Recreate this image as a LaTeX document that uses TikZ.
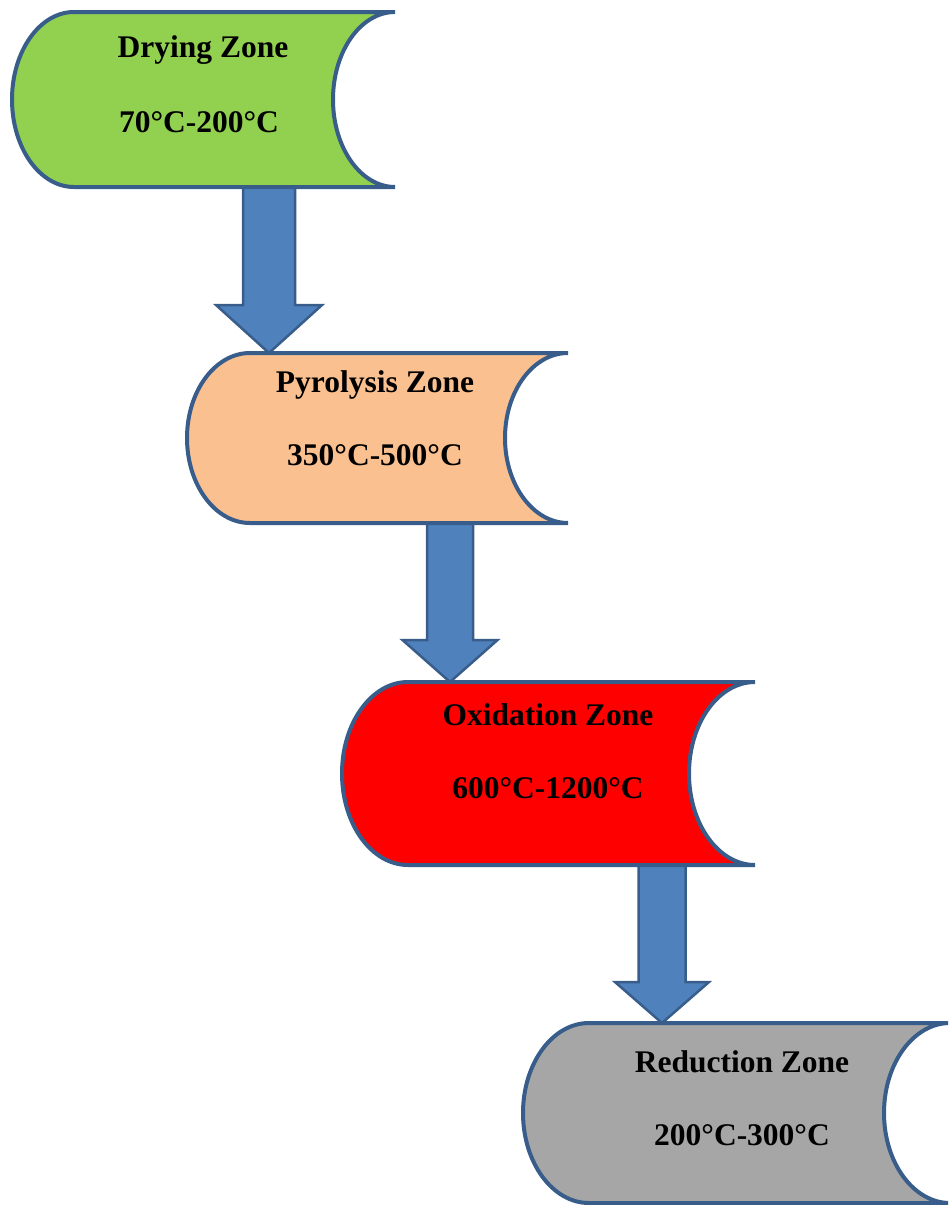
\documentclass[tikz,border=0pt]{standalone}
\usepackage{fontspec}
\setmainfont{Liberation Serif}
\usetikzlibrary{calc}
\definecolor{zgreen}{RGB}{146,208,80}
\definecolor{zpeach}{RGB}{250,192,144}
\definecolor{zred}{RGB}{255,0,0}
\definecolor{zgray}{RGB}{166,166,166}
\definecolor{zline}{RGB}{56,93,138}
\definecolor{zarrow}{RGB}{79,129,189}
\newcommand\zoneshape[3]{%
  \path[zoneborder, fill=#3] let \p1=(#1.north west), \p2=(#1.south east), \n1={(\y1-\y2)/2} in
    (\x1+#2pt,\y1) -- (\x2,\y1)
    arc[start angle=90, end angle=270, x radius=#2pt, y radius=\n1]
    -- (\x1+#2pt,\y2)
    arc[start angle=270, end angle=90, x radius=#2pt, y radius=\n1] -- cycle;}
\newcommand\blockarrow[5]{%
  \path[blockarr] let \p1=(#1), \p2=(#2) in
    (\x1-#3pt,\y1) -- (\x1+#3pt,\y1) -- (\x1+#3pt,\y2+#5pt) -- (\x1+#4pt,\y2+#5pt)
    -- (\x2,\y2) -- (\x1-#4pt,\y2+#5pt) -- (\x1-#3pt,\y2+#5pt) -- cycle;}
\begin{document}
\begin{tikzpicture}[x=1pt,y=1pt,
  zoneanchor/.style={minimum width=#1, inner sep=0pt, outer sep=0pt},
  zoneborder/.style={draw=zline, line width=4pt, line join=miter},
  blockarr/.style={draw=zline, fill=zarrow, line width=2.5pt, line join=miter},
  zonetext/.style={anchor=base, inner sep=0pt, font=\fontsize{31.5}{36}\selectfont\bfseries}]
\clip (0,0) rectangle (948,-1205);
% invisible anchor nodes for the zone shapes
\node[zoneanchor=383pt, minimum height=175pt] (dry) at (203.5,-99.5) {};
\node[zoneanchor=381pt, minimum height=170pt] (pyr) at (377.5,-438) {};
\node[zoneanchor=413pt, minimum height=183pt] (oxi) at (548.5,-773.5) {};
\node[zoneanchor=427pt, minimum height=180pt] (red) at (736.5,-1113) {};
% arrow end points
\coordinate (a1s) at ([xshift=65.5pt]dry.south);
\coordinate (a1e) at ([xshift=-108.5pt]pyr.north);
\coordinate (a2s) at ([xshift=72.5pt]pyr.south);
\coordinate (a2e) at ([xshift=-98.5pt]oxi.north);
\coordinate (a3s) at ([xshift=113.5pt]oxi.south);
\coordinate (a3e) at ([xshift=-74.5pt]red.north);
% block arrows
\blockarrow{a1s}{a1e}{26}{53}{48}
\blockarrow{a2s}{a2e}{23}{47.5}{42}
\blockarrow{a3s}{a3e}{23.5}{47}{41}
% zone shapes
\zoneshape{dry}{62}{zgreen}
\zoneshape{pyr}{63}{zpeach}
\zoneshape{oxi}{66}{zred}
\zoneshape{red}{66}{zgray}
% texts
\node[zonetext] (dry1) at (203,-57) {Drying Zone};
\node[zonetext] (dry2) at (199,-132) {70°C-200°C};
\node[zonetext] (pyr1) at (375,-392) {Pyrolysis Zone};
\node[zonetext] (pyr2) at (375,-465) {350°C-500°C};
\node[zonetext] (oxi1) at (548,-725) {Oxidation Zone};
\node[zonetext] (oxi2) at (548,-798) {600°C-1200°C};
\node[zonetext] (red1) at (742,-1072) {Reduction Zone};
\node[zonetext] (red2) at (742,-1145) {200°C-300°C};
\end{tikzpicture}
\end{document}
